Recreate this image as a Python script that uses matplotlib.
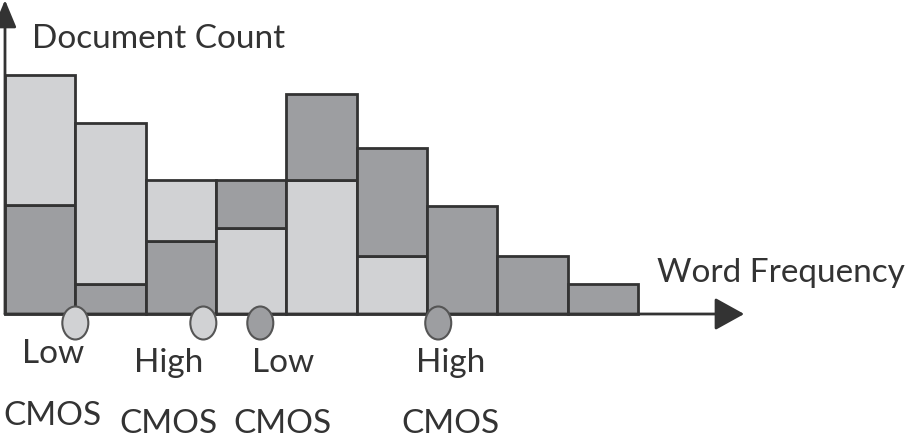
import matplotlib

matplotlib.use("Agg")
import matplotlib.pyplot as plt
from matplotlib.patches import Ellipse

plt.rcParams["font.family"] = ["Lato", "DejaVu Sans"]

# ---- data (arbitrary count units) ----
dark_counts = [109, 30, 73, 48, 86, 108, 108, 58, 30]
light_counts = [130, 161, 61, 86, 134, 58, 0, 0, 0]
dark_on_bottom = [True, True, True, False, False, False, True, True, True]

# mean word-frequency position of each class (in bin units)
cmos_pos = [1.0, 2.82, 3.63, 6.16]
cmos_group = ["light", "light", "dark", "dark"]
cmos_top = ["Low", "High", "Low", "High"]
cmos_bottom = ["CMOS", "CMOS", "CMOS", "CMOS"]

C_LIGHT, C_DARK = "#D1D2D4", "#9D9EA1"
C_EDGE, C_TEXT = "#333333", "#333333"
FILL = {"light": C_LIGHT, "dark": C_DARK}
FS = 24

fig = plt.figure(figsize=(9.07, 4.44), dpi=100)
ax = fig.add_axes([0, 0, 1, 1])
ax.set_xlim(-0.071, 12.825)
ax.set_ylim(-130, 314)
ax.axis("off")

for i, (d, l, db) in enumerate(zip(dark_counts, light_counts, dark_on_bottom)):
    layers = [(d, C_DARK), (l, C_LIGHT)] if db else [(l, C_LIGHT), (d, C_DARK)]
    bottom = 0
    for h, c in layers:
        if h <= 0:
            continue
        ax.bar(i, h, bottom=bottom, width=1, align="edge", color=c,
               edgecolor=C_EDGE, linewidth=2.0, zorder=2)
        bottom += h

# axes with arrows
ax.annotate("", xy=(0, 314), xytext=(0, 0),
            arrowprops=dict(arrowstyle="-|>,head_length=0.6,head_width=0.25",
                            mutation_scale=28, lw=2.0, color=C_EDGE,
                            shrinkA=0, shrinkB=0), zorder=3)
ax.annotate("", xy=(10.51, 0), xytext=(0, 0),
            arrowprops=dict(arrowstyle="-|>,head_length=0.65,head_width=0.36",
                            mutation_scale=28, lw=2.0, color=C_EDGE,
                            shrinkA=0, shrinkB=0), zorder=3)

ax.text(0.384, 266, "Document Count", fontsize=FS, color=C_TEXT,
        ha="left", va="baseline")
ax.text(9.27, 32, "Word Frequency", fontsize=FS, color=C_TEXT,
        ha="left", va="baseline")

# class markers on the x axis
for p, g in zip(cmos_pos, cmos_group):
    ax.add_patch(Ellipse((p, -9), width=26 / 70.33, height=33,
                         facecolor=FILL[g], edgecolor="#555555",
                         linewidth=1.5, zorder=4))

label_x = [0.68, 2.32, 3.95, 6.33]
top_y = [-49, -58, -58, -58]
bot_y = [-111, -119, -119, -119]
for x, t, b, ty, by in zip(label_x, cmos_top, cmos_bottom, top_y, bot_y):
    ax.text(x, ty, t, fontsize=FS, color=C_TEXT, ha="center", va="baseline",
            zorder=5)
    ax.text(x, by, b, fontsize=FS, color=C_TEXT, ha="center", va="baseline",
            zorder=5)

fig.savefig("out.png", dpi=100)
